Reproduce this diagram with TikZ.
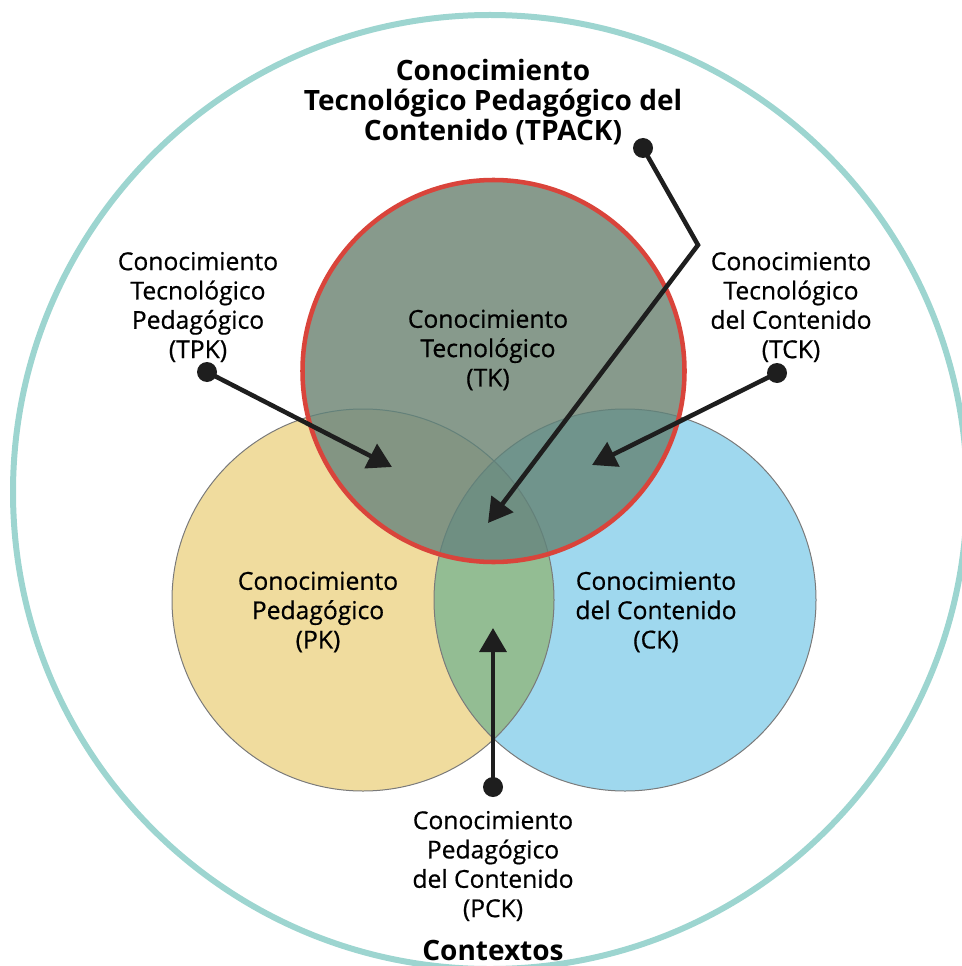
\documentclass[tikz,border=0pt]{standalone}
\usepackage{fontspec}
\setmainfont{Open Sans}
\newfontfamily\lblfont[FakeBold=0.6]{Open Sans}
\usetikzlibrary{arrows.meta}
\definecolor{ringc}{HTML}{9DD5D0}
\definecolor{pkc}{HTML}{F0DC9E}
\definecolor{ckc}{HTML}{9FD8EE}
\definecolor{pckc}{HTML}{93BD93}
\definecolor{tkc}{HTML}{879A8C}
\definecolor{tkpkc}{HTML}{839583}
\definecolor{tkckc}{HTML}{70948C}
\definecolor{tpackc}{HTML}{6F8F82}
\definecolor{redc}{HTML}{D9443B}
\definecolor{inkc}{HTML}{1E1E1E}
\definecolor{edgec}{HTML}{7A7A7A}
\definecolor{edgeinc}{HTML}{64817A}
\tikzset{
  x=0.75pt, y=-0.75pt,
  lbl/.style={align=center, font=\lblfont\fontsize{18.5pt}{22pt}\selectfont, text=black, inner sep=0pt},
  ttl/.style={align=center, font=\fontsize{21pt}{22.5pt}\selectfont\bfseries, text=black, inner sep=0pt},
  pointer/.style={draw=inkc, line width=3.4pt, -{Triangle[length=18pt,width=20pt]}},
  knob/.style={fill=inkc},
  rr/.style={radius=143.25pt},
}
\begin{document}
\begin{tikzpicture}
\useasboundingbox (0,0) rectangle (961,966);
% outer context ring
\draw[ringc, line width=4.5pt] (490,492) circle[radius=357.75pt];
\coordinate (pkcen) at (363,600);
\coordinate (ckcen) at (625,600);
\coordinate (tkcen) at (493.5,371);
% PK and CK
\fill[pkc] (pkcen) circle[rr];
\fill[ckc] (ckcen) circle[rr];
\begin{scope}
  \clip (pkcen) circle[rr];
  \fill[pckc] (ckcen) circle[rr];
\end{scope}
\draw[edgec, line width=0.75pt] (pkcen) circle[rr];
\draw[edgec, line width=0.75pt] (ckcen) circle[rr];
% TK regions
\fill[tkc] (tkcen) circle[rr];
\begin{scope}
  \clip (tkcen) circle[rr];
  \fill[tkpkc] (pkcen) circle[rr];
  \fill[tkckc] (ckcen) circle[rr];
  \clip (pkcen) circle[rr];
  \fill[tpackc] (ckcen) circle[rr];
\end{scope}
\begin{scope}
  \clip (tkcen) circle[rr];
  \draw[edgeinc, line width=0.75pt] (pkcen) circle[rr];
  \draw[edgeinc, line width=0.75pt] (ckcen) circle[rr];
\end{scope}
\draw[redc, line width=3.4pt] (tkcen) circle[rr];
% texts
\node[ttl] (tpack) at (493,102) {Conocimiento\\Tecnológico Pedagógico del\\Contenido (TPACK)};
\node[lbl] (tpk) at (198,307) {Conocimiento\\Tecnológico\\Pedagógico\\(TPK)};
\node[lbl] (tck) at (791,307) {Conocimiento\\Tecnológico\\del Contenido\\(TCK)};
\node[lbl] (tk) at (488,350) {Conocimiento\\Tecnológico\\(TK)};
\node[lbl] (pk) at (318,612) {Conocimiento\\Pedagógico\\(PK)};
\node[lbl] (ck) at (656,612) {Conocimiento\\del Contenido\\(CK)};
\node[lbl] (pck) at (493,866) {Conocimiento\\Pedagógico\\del Contenido\\(PCK)};
\node[ttl] (ctx) at (493,950) {Contextos};
% connector points
\coordinate (tpkdot) at (207,372);
\coordinate (tpktip) at (392,467);
\coordinate (tckdot) at (777,373);
\coordinate (tcktip) at (592,465);
\coordinate (tpackdot) at (643,148);
\coordinate (tpackbend) at (698,245);
\coordinate (tpacktip) at (488,523);
\coordinate (pckdot) at (493,787);
\coordinate (pcktip) at (493,628);
% connectors
\draw[pointer] (tpkdot) -- (tpktip);
\draw[pointer] (tckdot) -- (tcktip);
\draw[pointer] (tpackdot) -- (tpackbend) -- (tpacktip);
\draw[pointer] (pckdot) -- (pcktip);
\foreach \d in {tpkdot,tckdot,tpackdot,pckdot}
  \fill[knob] (\d) circle[radius=7.5pt];
\end{tikzpicture}
\end{document}
